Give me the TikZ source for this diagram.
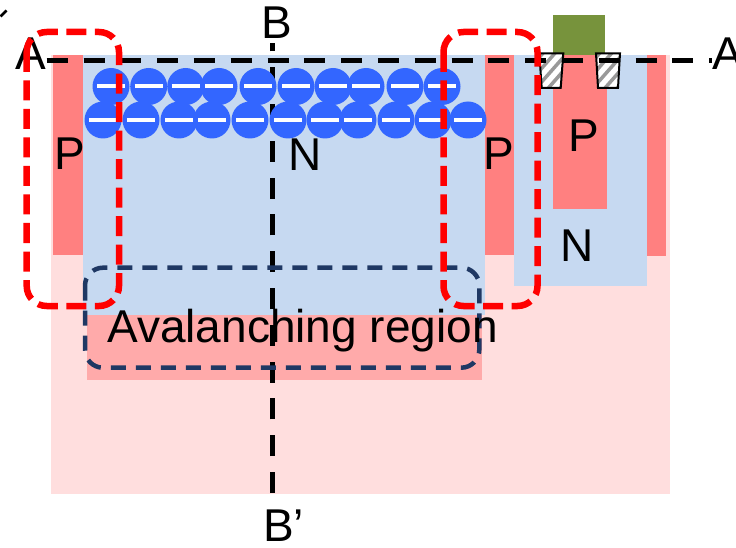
\documentclass[tikz,border=0pt]{standalone}
\usepackage{fontspec}
\setmainfont{Liberation Sans}
\definecolor{subpink}{RGB}{255,222,222}
\definecolor{pdope}{RGB}{255,128,128}
\definecolor{avpink}{RGB}{255,170,170}
\definecolor{ndope}{RGB}{198,217,241}
\definecolor{gatecol}{RGB}{119,147,60}
\definecolor{eblue}{RGB}{51,102,255}
\definecolor{navy}{RGB}{31,56,100}
\begin{document}
\begin{tikzpicture}[x=1pt,y=-1pt,
  lbl/.style={font=\fontsize{46}{52}\selectfont, inner sep=0pt, anchor=base},
  electron/.style={circle, fill=eblue, minimum size=37pt, inner sep=0pt,
    path picture={\draw[white,line width=4pt]
      ([xshift=-14pt]path picture bounding box.center) --
      ([xshift=14pt]path picture bounding box.center);}},
  cutline/.style={black, line width=5pt, dash pattern=on 21pt off 15.8pt},
  guardbox/.style={red, line width=6.5pt, rounded corners=20pt, dash pattern=on 20pt off 8.5pt},
  avbox/.style={navy, line width=4.5pt, rounded corners=18pt, dash pattern=on 15pt off 10pt},
  contact/.style={fill=white},
  contactedge/.style={draw=black, line width=2pt}
]
\useasboundingbox (0,0) rectangle (736,548);

% substrate and doped wells
\fill[subpink] (51,55) rectangle (670,494);
\fill[ndope] (83,55) rectangle (485,315);
\fill[avpink] (86.7,315) rectangle (481.7,380);
\fill[pdope] (53,55) rectangle (83,255);
\fill[pdope] (485,55) rectangle (513.7,255);
\fill[ndope] (513.7,55) rectangle (647,285.7);
\fill[pdope] (647,55) rectangle (666,255.7);
\fill[pdope] (553,55) rectangle (607,208.7);

% gate and hatched contacts
\fill[gatecol] (553,15) rectangle (605,55);
\foreach \xa/\xb/\xc/\xd in {539.3/563.3/560.7/541.7, 596/620/618/598}{
  \path[contact] (\xa,53.3) -- (\xb,53.3) -- (\xc,88) -- (\xd,88) -- cycle;
  \begin{scope}
    \clip (\xa,53.3) -- (\xb,53.3) -- (\xc,88) -- (\xd,88) -- cycle;
    \foreach \k in {-36,-24,...,36}
      \draw[gray!80, line width=3.5pt] (\xa+12+\k-22,96) -- (\xa+12+\k+22,46);
  \end{scope}
  \path[contactedge] (\xa,53.3) -- (\xb,53.3) -- (\xc,88) -- (\xd,88) -- cycle;
}

% cut line B-B'
\node[lbl] (B) at (277,38.3) {B};
\node[lbl] (Bp) at (283.7,541.7) {B’};
\coordinate (bTop) at (272,43);
\coordinate (bBot) at (272,493);
\draw[cutline] (bBot) -- (bTop);

% accumulated electrons
\foreach \x [count=\i] in {111,148.7,185.7,219,258,296,333,366,405,442}
  \node[electron] (et\i) at (\x,86.5) {};
\foreach \x [count=\i] in {103,141,179,212,250,288,325,358,396,433,468}
  \node[electron] (eb\i) at (\x,120) {};

% cut line A-A
\node[lbl] (A1) at (31,70) {A};
\node[lbl] (A2) at (727.5,70) {A};
\coordinate (aL) at (46.7,61);
\coordinate (aR) at (712,61);
\draw[cutline] (aL) -- (aR);
\draw[black, line width=2.5pt] (6.5,10.5) -- (0.5,16.5);

% avalanching region and guard-ring edges
\draw[avbox] (85,267.7) rectangle (479.3,367.7);
\draw[guardbox] (26.7,32) rectangle (119,306);
\draw[guardbox] (443.5,32) rectangle (537.5,306);

% labels
\node[lbl] (pL) at (69.5,169.3) {P};
\node[lbl] (nM) at (305,171) {N};
\node[lbl] (pR) at (499,169.3) {P};
\node[lbl] (pD) at (584,151.7) {P};
\node[lbl] (nD) at (577,261.7) {N};
\node[lbl] (av) at (302.5,342.7) {Avalanching region};
\end{tikzpicture}
\end{document}
